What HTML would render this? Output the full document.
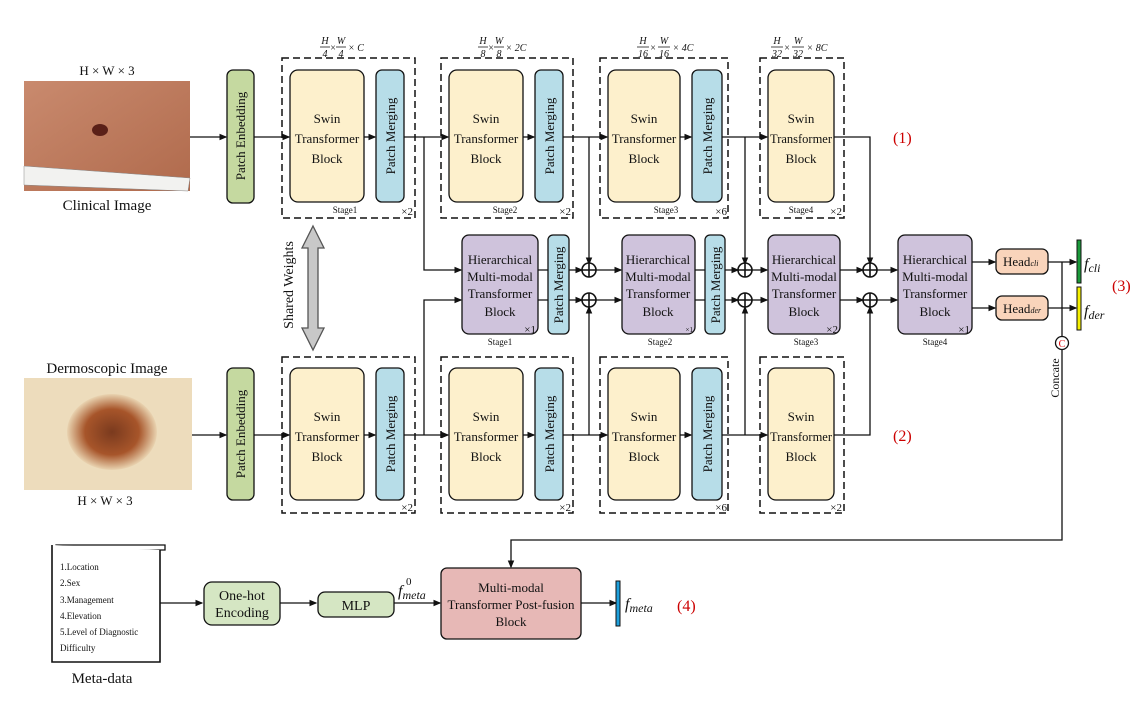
<!DOCTYPE html>
<html><head><meta charset="utf-8"><style>
html,body{margin:0;padding:0;background:#fff;}
svg text{font-family:"Liberation Serif",serif;fill:#111;}
</style></head><body>
<svg width="1148" height="699" viewBox="0 0 1148 699" xmlns="http://www.w3.org/2000/svg">
<defs>
<marker id="a" markerWidth="6" markerHeight="6" refX="5" refY="3" orient="auto"><path d="M0,0.5 L6,3 L0,5.5z" fill="#111"/></marker>
<linearGradient id="skin" x1="0" y1="0" x2="1" y2="1"><stop offset="0" stop-color="#c98a6e"/><stop offset="1" stop-color="#b06a4c"/></linearGradient>
<radialGradient id="derm" cx="0.5" cy="0.5" r="0.5"><stop offset="0" stop-color="#7a3a1e"/><stop offset="0.6" stop-color="#a7552a"/><stop offset="1" stop-color="#e9d3b0"/></radialGradient>
</defs>
<g stroke="#111" stroke-width="1.3" fill="none">
<rect x="24" y="81" width="166" height="110" fill="url(#skin)" stroke="none"/>
<ellipse cx="100" cy="130" rx="8" ry="6" fill="#5a2018" stroke="none"/>
<polygon points="24,166 190,178 188,191 24,185" fill="#f2f2f0" stroke="#888" stroke-width="0.5"/>
<rect x="24" y="378" width="168" height="112" fill="#eddcbc" stroke="none"/>
<ellipse cx="112" cy="432" rx="45" ry="38" fill="url(#derm)" stroke="none"/>
<line x1="190" y1="137" x2="226" y2="137" marker-end="url(#a)"/>
<line x1="254" y1="137" x2="289" y2="137" marker-end="url(#a)"/>
<line x1="364" y1="137" x2="375" y2="137" marker-end="url(#a)"/>
<line x1="404" y1="137" x2="448" y2="137" marker-end="url(#a)"/>
<line x1="523" y1="137" x2="534" y2="137" marker-end="url(#a)"/>
<line x1="563" y1="137" x2="607" y2="137" marker-end="url(#a)"/>
<line x1="680" y1="137" x2="691" y2="137" marker-end="url(#a)"/>
<line x1="722" y1="137" x2="767" y2="137" marker-end="url(#a)"/>
<polyline points="834,137 870,137 870,264" marker-end="url(#a)"/>
<line x1="192" y1="435" x2="226" y2="435" marker-end="url(#a)"/>
<line x1="254" y1="435" x2="289" y2="435" marker-end="url(#a)"/>
<line x1="364" y1="435" x2="375" y2="435" marker-end="url(#a)"/>
<line x1="404" y1="435" x2="448" y2="435" marker-end="url(#a)"/>
<line x1="523" y1="435" x2="534" y2="435" marker-end="url(#a)"/>
<line x1="563" y1="435" x2="607" y2="435" marker-end="url(#a)"/>
<line x1="680" y1="435" x2="691" y2="435" marker-end="url(#a)"/>
<line x1="722" y1="435" x2="767" y2="435" marker-end="url(#a)"/>
<polyline points="834,435 870,435 870,307" marker-end="url(#a)"/>
<polyline points="424,137 424,270 461,270" marker-end="url(#a)"/>
<polyline points="424,435 424,300 461,300" marker-end="url(#a)"/>
<line x1="589" y1="137" x2="589" y2="264" marker-end="url(#a)"/>
<line x1="589" y1="435" x2="589" y2="307" marker-end="url(#a)"/>
<line x1="745" y1="137" x2="745" y2="264" marker-end="url(#a)"/>
<line x1="745" y1="435" x2="745" y2="307" marker-end="url(#a)"/>
<line x1="538" y1="270" x2="582" y2="270" marker-end="url(#a)"/>
<line x1="538" y1="300" x2="582" y2="300" marker-end="url(#a)"/>
<line x1="596" y1="270" x2="621" y2="270" marker-end="url(#a)"/>
<line x1="596" y1="300" x2="621" y2="300" marker-end="url(#a)"/>
<line x1="695" y1="270" x2="738" y2="270" marker-end="url(#a)"/>
<line x1="695" y1="300" x2="738" y2="300" marker-end="url(#a)"/>
<line x1="752" y1="270" x2="767" y2="270" marker-end="url(#a)"/>
<line x1="752" y1="300" x2="767" y2="300" marker-end="url(#a)"/>
<line x1="840" y1="270" x2="863" y2="270" marker-end="url(#a)"/>
<line x1="840" y1="300" x2="863" y2="300" marker-end="url(#a)"/>
<line x1="877" y1="270" x2="897" y2="270" marker-end="url(#a)"/>
<line x1="877" y1="300" x2="897" y2="300" marker-end="url(#a)"/>
<line x1="972" y1="262" x2="995" y2="262" marker-end="url(#a)"/>
<line x1="972" y1="308" x2="995" y2="308" marker-end="url(#a)"/>
<line x1="1048" y1="262" x2="1076" y2="262" marker-end="url(#a)"/>
<line x1="1048" y1="308" x2="1076" y2="308" marker-end="url(#a)"/>
<polyline points="1062,262 1062,540 511,540 511,567" marker-end="url(#a)"/>
<g stroke-width="1.6">
<circle cx="589" cy="270" r="7" fill="#fff"/><path d="M582,270h14M589,263v14"/>
<circle cx="589" cy="300" r="7" fill="#fff"/><path d="M582,300h14M589,293v14"/>
<circle cx="745" cy="270" r="7" fill="#fff"/><path d="M738,270h14M745,263v14"/>
<circle cx="745" cy="300" r="7" fill="#fff"/><path d="M738,300h14M745,293v14"/>
<circle cx="870" cy="270" r="7" fill="#fff"/><path d="M863,270h14M870,263v14"/>
<circle cx="870" cy="300" r="7" fill="#fff"/><path d="M863,300h14M870,293v14"/>
</g>
<circle cx="1062" cy="343" r="6.5" fill="#fff"/>
<g stroke-dasharray="7,4" stroke-width="1.5">
<rect x="282" y="58" width="133" height="160"/>
<rect x="441" y="58" width="132" height="160"/>
<rect x="600" y="58" width="128" height="160"/>
<rect x="760" y="58" width="84" height="160"/>
<rect x="282" y="357" width="133" height="156"/>
<rect x="441" y="357" width="132" height="156"/>
<rect x="600" y="357" width="128" height="156"/>
<rect x="760" y="357" width="84" height="156"/>
</g>
<rect x="227" y="70" width="27" height="133" rx="6" fill="#c5d9a0"/>
<rect x="227" y="368" width="27" height="132" rx="6" fill="#c5d9a0"/>
<g fill="#fdf0cc">
<rect x="290" y="70" width="74" height="132" rx="8"/><rect x="449" y="70" width="74" height="132" rx="8"/>
<rect x="608" y="70" width="72" height="132" rx="8"/><rect x="768" y="70" width="66" height="132" rx="8"/>
<rect x="290" y="368" width="74" height="132" rx="8"/><rect x="449" y="368" width="74" height="132" rx="8"/>
<rect x="608" y="368" width="72" height="132" rx="8"/><rect x="768" y="368" width="66" height="132" rx="8"/>
</g>
<g fill="#b7dde8">
<rect x="376" y="70" width="28" height="132" rx="6"/><rect x="535" y="70" width="28" height="132" rx="6"/><rect x="692" y="70" width="30" height="132" rx="6"/>
<rect x="376" y="368" width="28" height="132" rx="6"/><rect x="535" y="368" width="28" height="132" rx="6"/><rect x="692" y="368" width="30" height="132" rx="6"/>
<rect x="548" y="235" width="21" height="99" rx="5"/><rect x="705" y="235" width="20" height="99" rx="5"/>
</g>
<g fill="#cfc3dc">
<rect x="462" y="235" width="76" height="99" rx="7"/><rect x="622" y="235" width="73" height="99" rx="7"/>
<rect x="768" y="235" width="72" height="99" rx="7"/><rect x="898" y="235" width="74" height="99" rx="7"/>
</g>
<g fill="#f9d4bb"><rect x="996" y="249" width="52" height="25" rx="6"/><rect x="996" y="296" width="52" height="24" rx="6"/></g>
<rect x="1077" y="240" width="4" height="43" fill="#1a9a3a" stroke-width="1"/>
<rect x="1077" y="287" width="4" height="43" fill="#f5f000" stroke-width="1"/>
<polygon points="313,226 324,248 318,248 318,328 324,328 313,350 302,328 308,328 308,248 302,248" fill="#c8c8c8" stroke="#555"/>
<path d="M56,545 H165 V550 H56z" fill="#fff"/>
<path d="M52,545 V662 H160 V550" fill="#fff" stroke-width="1.6"/>
<line x1="160" y1="603" x2="202" y2="603" marker-end="url(#a)"/>
<rect x="204" y="582" width="76" height="43" rx="8" fill="#d5e6c3"/>
<line x1="280" y1="603" x2="316" y2="603" marker-end="url(#a)"/>
<rect x="318" y="592" width="76" height="25" rx="7" fill="#d5e6c3"/>
<line x1="394" y1="603" x2="440" y2="603" marker-end="url(#a)"/>
<rect x="441" y="568" width="140" height="71" rx="6" fill="#e7b8b6"/>
<line x1="581" y1="603" x2="616" y2="603" marker-end="url(#a)"/>
<rect x="616" y="581" width="4" height="45" fill="#1ea0dc" stroke-width="1"/>
<!-- fraction bars -->
<g stroke-width="0.8">
<path d="M320,47h10M336,47h10"/>
<path d="M478,47h10M494,47h10"/>
<path d="M637,47h12M658,47h12"/>
<path d="M771,47h12M792,47h12"/>
</g>
</g>
<g font-size="13" text-anchor="middle">
<text x="107" y="75">H × W × 3</text>
<text x="107" y="210" font-size="15">Clinical Image</text>
<text x="107" y="373" font-size="15">Dermoscopic Image</text>
<text x="105" y="505">H × W × 3</text>
<text x="102" y="683" font-size="15">Meta-data</text>
</g>
<g font-size="13" text-anchor="middle">
<text transform="translate(245,136) rotate(-90)">Patch Enbedding</text>
<text transform="translate(245,434) rotate(-90)">Patch Enbedding</text>
<text transform="translate(395,136) rotate(-90)">Patch Merging</text>
<text transform="translate(554,136) rotate(-90)">Patch Merging</text>
<text transform="translate(712,136) rotate(-90)">Patch Merging</text>
<text transform="translate(395,434) rotate(-90)">Patch Merging</text>
<text transform="translate(554,434) rotate(-90)">Patch Merging</text>
<text transform="translate(712,434) rotate(-90)">Patch Merging</text>
<text transform="translate(563,285) rotate(-90)">Patch Merging</text>
<text transform="translate(720,285) rotate(-90)">Patch Merging</text>
<text transform="translate(293,285) rotate(-90)" font-size="14">Shared Weights</text>
<text transform="translate(1059,378) rotate(-90)" font-size="12">Concate</text>
</g>
<g font-size="13" text-anchor="middle">
<text x="327" y="123">Swin</text><text x="327" y="143">Transformer</text><text x="327" y="163">Block</text>
<text x="486" y="123">Swin</text><text x="486" y="143">Transformer</text><text x="486" y="163">Block</text>
<text x="644" y="123">Swin</text><text x="644" y="143">Transformer</text><text x="644" y="163">Block</text>
<text x="801" y="123">Swin</text><text x="801" y="143" textLength="62" lengthAdjust="spacingAndGlyphs">Transformer</text><text x="801" y="163">Block</text>
<text x="327" y="421">Swin</text><text x="327" y="441">Transformer</text><text x="327" y="461">Block</text>
<text x="486" y="421">Swin</text><text x="486" y="441">Transformer</text><text x="486" y="461">Block</text>
<text x="644" y="421">Swin</text><text x="644" y="441">Transformer</text><text x="644" y="461">Block</text>
<text x="801" y="421">Swin</text><text x="801" y="441" textLength="62" lengthAdjust="spacingAndGlyphs">Transformer</text><text x="801" y="461">Block</text>
<text x="500" y="264">Hierarchical</text><text x="500" y="281">Multi-modal</text><text x="500" y="298">Transformer</text><text x="500" y="316">Block</text>
<text x="658" y="264">Hierarchical</text><text x="658" y="281">Multi-modal</text><text x="658" y="298">Transformer</text><text x="658" y="316">Block</text>
<text x="804" y="264">Hierarchical</text><text x="804" y="281">Multi-modal</text><text x="804" y="298">Transformer</text><text x="804" y="316">Block</text>
<text x="935" y="264">Hierarchical</text><text x="935" y="281">Multi-modal</text><text x="935" y="298">Transformer</text><text x="935" y="316">Block</text>
<text x="242" y="600" font-size="14">One-hot</text><text x="242" y="617" font-size="14">Encoding</text>
<text x="356" y="610" font-size="14">MLP</text>
<text x="511" y="592">Multi-modal</text><text x="511" y="609">Transformer Post-fusion</text><text x="511" y="626">Block</text>
</g>
<g font-size="9" text-anchor="middle">
<text x="345" y="213">Stage1</text><text x="505" y="213">Stage2</text><text x="666" y="213">Stage3</text><text x="801" y="213">Stage4</text>
<text x="500" y="345">Stage1</text><text x="660" y="345">Stage2</text><text x="806" y="345">Stage3</text><text x="935" y="345">Stage4</text>
</g>
<g font-size="11" text-anchor="end">
<text x="413" y="215">×2</text><text x="571" y="215">×2</text><text x="727" y="215">×6</text><text x="842" y="215">×2</text>
<text x="413" y="511">×2</text><text x="571" y="511">×2</text><text x="727" y="511">×6</text><text x="842" y="511">×2</text>
<text x="536" y="333">×1</text><text x="693" y="332" font-size="7">×1</text><text x="838" y="333">×2</text><text x="970" y="333">×1</text>
</g>
<g font-size="13">
<text x="1003" y="266">Head<tspan font-size="8" font-style="italic">cli</tspan></text>
<text x="1003" y="313">Head<tspan font-size="8" font-style="italic">der</tspan></text>
<text x="1084" y="269" font-style="italic" font-size="16">f<tspan font-size="12" dy="3">cli</tspan></text>
<text x="1084" y="316" font-style="italic" font-size="16">f<tspan font-size="12" dy="3">der</tspan></text>
<text x="625" y="609" font-style="italic" font-size="16">f<tspan font-size="12" dy="3">meta</tspan></text>
<text x="398" y="596" font-style="italic" font-size="16">f<tspan font-size="12" dy="3">meta</tspan></text>
<text x="406" y="585" font-size="11">0</text>
</g>
<text x="1062" y="347" font-size="10" text-anchor="middle" style="fill:#d00">C</text>
<g font-size="16">
<text x="893" y="143" style="fill:#c00">(1)</text>
<text x="893" y="441" style="fill:#c00">(2)</text>
<text x="1112" y="291" style="fill:#c00">(3)</text>
<text x="677" y="611" style="fill:#c00">(4)</text>
</g>
<g font-size="9">
<text x="60" y="570">1.Location</text><text x="60" y="586">2.Sex</text><text x="60" y="603">3.Management</text>
<text x="60" y="619">4.Elevation</text><text x="60" y="635">5.Level of Diagnostic</text><text x="60" y="651">Difficulty</text>
</g>
<g font-size="10" font-style="italic" text-anchor="middle">
<text x="325" y="44">H</text><text x="325" y="57">4</text><text x="333" y="51">×</text><text x="341" y="44">W</text><text x="341" y="57">4</text><text x="356" y="51">× C</text>
<text x="483" y="44">H</text><text x="483" y="57">8</text><text x="491" y="51">×</text><text x="499" y="44">W</text><text x="499" y="57">8</text><text x="516" y="51">× 2C</text>
<text x="643" y="44">H</text><text x="643" y="57">16</text><text x="653" y="51">×</text><text x="664" y="44">W</text><text x="664" y="57">16</text><text x="683" y="51">× 4C</text>
<text x="777" y="44">H</text><text x="777" y="57">32</text><text x="787" y="51">×</text><text x="798" y="44">W</text><text x="798" y="57">32</text><text x="817" y="51">× 8C</text>
</g>
</svg>
</body></html>
